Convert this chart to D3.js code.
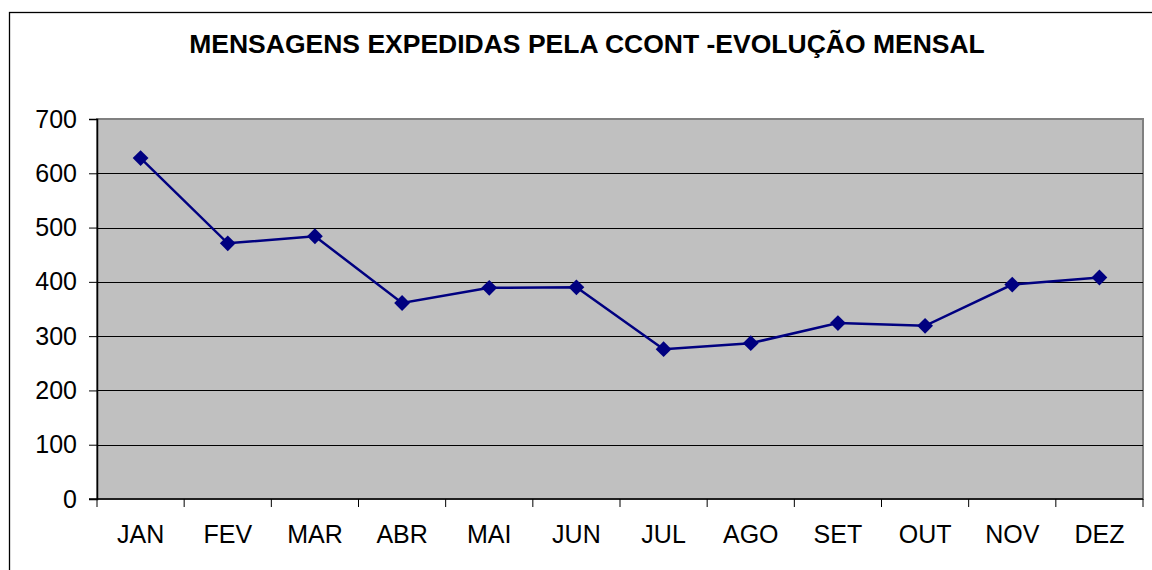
<!DOCTYPE html>
<html>
<head>
<meta charset="utf-8">
<script src="https://cdn.jsdelivr.net/npm/d3@7"></script>
<style>
  body { margin: 0; background: #fff; }
  text { font-family: "Liberation Sans", Arial, sans-serif; fill: #000; }
</style>
</head>
<body>
<script>
const months = ["JAN", "FEV", "MAR", "ABR", "MAI", "JUN", "JUL", "AGO", "SET", "OUT", "NOV", "DEZ"];
const mensagens = [628, 471, 484, 361, 389, 390, 276, 287, 324, 319, 395, 408];
const yTicks = [0, 100, 200, 300, 400, 500, 600, 700];
const title = "MENSAGENS EXPEDIDAS PELA CCONT -EVOLUÇÃO MENSAL";

const width = 1152, height = 570;
const plot = { left: 97, top: 119, right: 1143, bottom: 499 };

const svg = d3.select("body")
    .append("svg")
    .attr("width", width)
    .attr("height", height);

// outer chart frame (runs off the right and bottom edges)
svg.append("rect")
    .attr("x", 9.5).attr("y", 12.5)
    .attr("width", 1160).attr("height", 600)
    .attr("fill", "none")
    .attr("stroke", "#000")
    .attr("stroke-width", 1.3);

svg.append("text")
    .attr("x", 587).attr("y", 53)
    .attr("text-anchor", "middle")
    .style("font-size", "26.5px")
    .style("font-weight", "bold")
    .text(title);

const x = d3.scaleBand().domain(months).range([plot.left, plot.right]);
const y = d3.scaleLinear().domain([0, 700]).range([plot.bottom, plot.top]);

// plot area
svg.append("rect")
    .attr("x", plot.left).attr("y", plot.top)
    .attr("width", plot.right - plot.left)
    .attr("height", plot.bottom - plot.top)
    .attr("fill", "#c0c0c0")
    .attr("stroke", "#808080")
    .attr("stroke-width", 2);

// gridlines
svg.append("g")
    .selectAll("line")
    .data(yTicks.filter(d => d > 0 && d < 700))
    .join("line")
    .attr("x1", plot.left).attr("x2", plot.right)
    .attr("y1", d => Math.round(y(d)) + 0.5).attr("y2", d => Math.round(y(d)) + 0.5)
    .attr("stroke", "#000")
    .attr("stroke-width", 1);

// y axis
const yAxis = svg.append("g")
    .attr("transform", `translate(${plot.left},0)`)
    .call(d3.axisLeft(y).tickValues(yTicks).tickSize(8).tickPadding(12));
yAxis.select(".domain").attr("stroke", "#000").attr("stroke-width", 1.5);
yAxis.selectAll(".tick line").attr("stroke", "#000");
yAxis.selectAll("text")
    .style("font-size", "25px")
    .attr("font-family", null);

// x axis, ticks between categories
const xAxis = svg.append("g")
    .attr("transform", `translate(0,${plot.bottom})`);
xAxis.append("line")
    .attr("x1", plot.left - 8).attr("x2", plot.right)
    .attr("y1", 0).attr("y2", 0)
    .attr("stroke", "#000").attr("stroke-width", 1.5);
xAxis.selectAll(".sep")
    .data(months.concat(["end"]))
    .join("line")
    .attr("class", "sep")
    .attr("x1", (d, i) => plot.left + i * x.bandwidth())
    .attr("x2", (d, i) => plot.left + i * x.bandwidth())
    .attr("y1", 0).attr("y2", 8)
    .attr("stroke", "#000");
xAxis.selectAll(".lbl")
    .data(months)
    .join("text")
    .attr("class", "lbl")
    .attr("x", d => x(d) + x.bandwidth() / 2)
    .attr("y", 44)
    .attr("text-anchor", "middle")
    .style("font-size", "25px")
    .text(d => d);

// series
const cx = (d, i) => x(months[i]) + x.bandwidth() / 2;
const line = d3.line().x(cx).y(d => y(d));

svg.append("path")
    .datum(mensagens)
    .attr("d", line)
    .attr("fill", "none")
    .attr("stroke", "#000080")
    .attr("stroke-width", 2.5);

svg.append("g")
    .selectAll("path")
    .data(mensagens)
    .join("path")
    .attr("d", d3.symbol().type(d3.symbolSquare).size(125))
    .attr("transform", (d, i) => `translate(${cx(d, i)},${y(d)}) rotate(45)`)
    .attr("fill", "#000080");
</script>
</body>
</html>
